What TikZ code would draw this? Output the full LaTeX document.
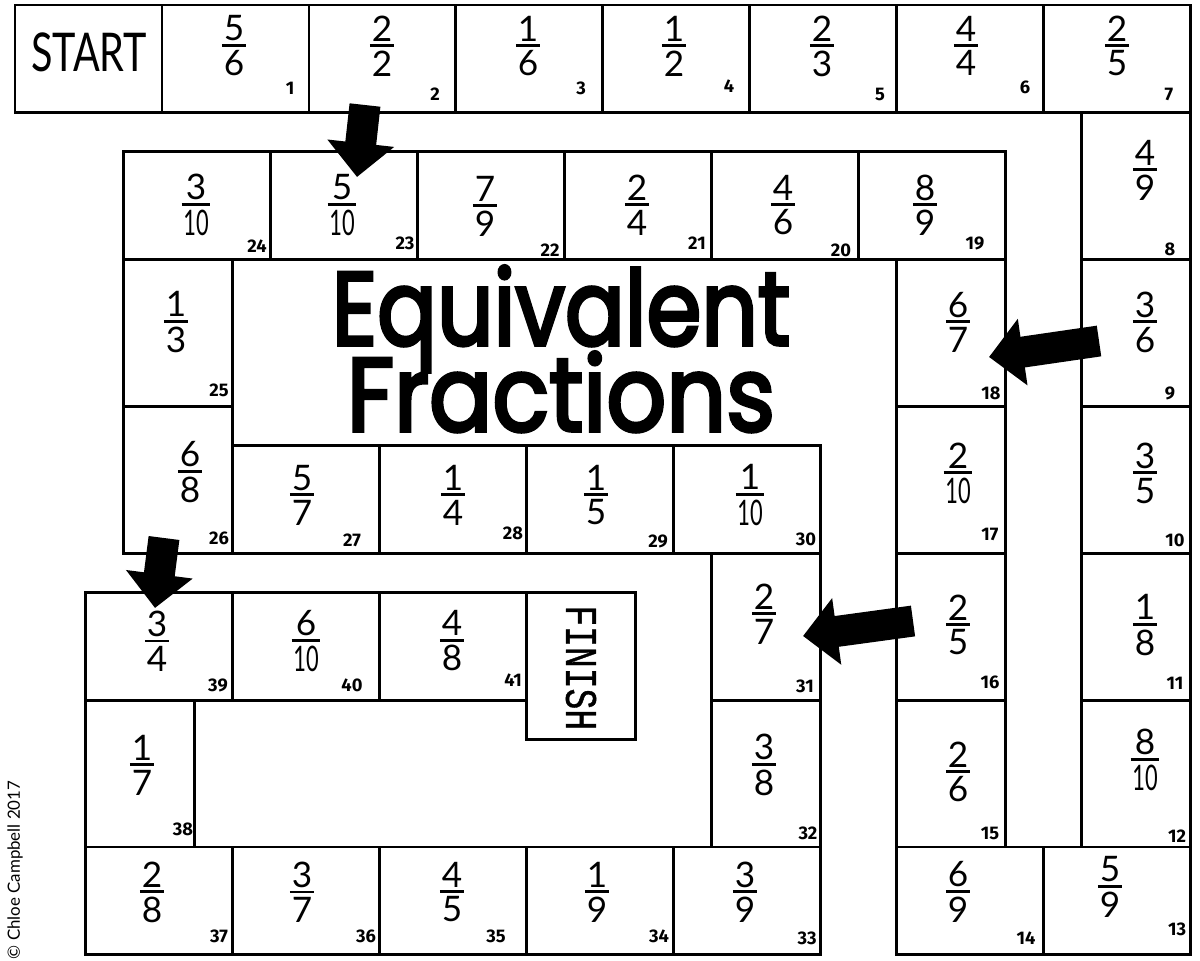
\documentclass[tikz,border=0pt]{standalone}
\usepackage{fontspec}
\usepackage{graphicx}
\usetikzlibrary{positioning,arrows.meta}
\setmainfont{Lato}
\newfontfamily\numfont{Fira Sans}
\newfontfamily\titlefont[FakeBold=3.5]{Poppins}
\newfontfamily\monofont[FakeBold=1]{Liberation Mono}
\newcommand\fr[2]{\vbox{\offinterlineskip\halign{\hfil\kern1.3pt##\kern1.3pt\hfil\cr #1\cr\noalign{\kern2.2pt\hrule height 1.8pt\kern2.8pt}#2\cr}}}
\newcommand\tn{\scalebox{.62}[1]{10}}
\tikzset{
  wide/.style={draw,line width=2pt,outer sep=0pt,inner sep=0pt,minimum width=3.673cm,minimum height=2.695cm},
  tall/.style={draw,line width=2pt,outer sep=0pt,inner sep=0pt,minimum width=2.72cm,minimum height=3.67cm},
  fraction/.style={inner sep=0pt,font=\fontsize{25}{28}\selectfont},
  cellnum/.style={inner sep=0pt,font=\numfont\bfseries\fontsize{13}{15}\selectfont},
  headline/.style={inner sep=0pt,anchor=base,font=\titlefont\fontsize{74}{76}\selectfont},
  blockarrow/.style={-{Triangle[length=.85cm,width=1.63cm]},line width=.775cm}
}
\begin{document}
\begin{tikzpicture}[x=.025cm,y=-.025cm]
  \useasboundingbox (0,0) rectangle (1200,960);

  % outer track
  \node[wide,anchor=north west] (start) at (15,5) {};
  \node[inner sep=0pt,font=\fontsize{38}{40}\selectfont] (starttext) at (89,52) {\scalebox{.74}[1]{START}};
  \node[wide,right=0pt of start] (c1) {};
  \node[wide,right=0pt of c1] (c2) {};
  \node[wide,right=0pt of c2] (c3) {};
  \node[wide,right=0pt of c3] (c4) {};
  \node[wide,right=0pt of c4] (c5) {};
  \node[wide,right=0pt of c5] (c6) {};
  \node[wide,right=0pt of c6] (c7) {};
  \node[tall,anchor=north east] (c8) at (c7.south east) {};
  \node[tall,below=0pt of c8] (c9) {};
  \node[tall,below=0pt of c9] (c10) {};
  \node[tall,below=0pt of c10] (c11) {};
  \node[tall,below=0pt of c11] (c12) {};
  \node[wide,anchor=north east] (c13) at (c12.south east) {};
  \node[wide,left=0pt of c13] (c14) {};
  \node[tall,anchor=south west] (c15) at (c14.north west) {};
  \node[tall,above=0pt of c15] (c16) {};
  \node[tall,above=0pt of c16] (c17) {};
  \node[tall,above=0pt of c17] (c18) {};
  % middle track
  \node[wide,anchor=south east] (c19) at (c18.north east) {};
  \node[wide,left=0pt of c19] (c20) {};
  \node[wide,left=0pt of c20] (c21) {};
  \node[wide,left=0pt of c21] (c22) {};
  \node[wide,left=0pt of c22] (c23) {};
  \node[wide,left=0pt of c23] (c24) {};
  \node[tall,anchor=north west] (c25) at (c24.south west) {};
  \node[tall,below=0pt of c25] (c26) {};
  \node[wide,anchor=south west] (c27) at (c26.south east) {};
  \node[wide,right=0pt of c27] (c28) {};
  \node[wide,right=0pt of c28] (c29) {};
  \node[wide,right=0pt of c29] (c30) {};
  \node[tall,anchor=north east] (c31) at (c30.south east) {};
  \node[tall,below=0pt of c31] (c32) {};
  % inner track
  \node[wide,anchor=north east] (c33) at (c32.south east) {};
  \node[wide,left=0pt of c33] (c34) {};
  \node[wide,left=0pt of c34] (c35) {};
  \node[wide,left=0pt of c35] (c36) {};
  \node[wide,left=0pt of c36] (c37) {};
  \node[tall,anchor=south west] (c38) at (c37.north west) {};
  \node[wide,anchor=south west] (c39) at (c38.north west) {};
  \node[wide,right=0pt of c39] (c40) {};
  \node[wide,right=0pt of c40] (c41) {};
  \node[tall,anchor=north west] (finish) at (c41.north east) {};
  \node[rotate=-90,inner sep=0pt,xshift=.05cm,font=\monofont\fontsize{32}{34}\selectfont] (finishtext) at (finish.center) {\scalebox{.77}[1]{FINISH}};

  % fractions and cell numbers
  \foreach \id/\tp/\bt/\fx/\fy/\nx/\ny in {
    1/5/6/234/46/290/88, 2/2/2/382/46/435/94, 3/1/6/528/46/581/88, 4/1/2/674/46/729/86,
    5/2/3/822/46/880/94, 6/4/4/966/46/1025/87, 7/2/5/1117/46/1169/94, 8/4/9/1145/170/1170/249,
    9/3/6/1145/322/1170/393, 10/3/5/1145/473/1175/540, 11/1/8/1145/625/1175/683, 12/8/\tn/1145/760/1177/836,
    13/5/9/1110/887/1177/929, 14/6/9/958/892/1026/938, 15/2/6/958/772/990/833, 16/2/5/958/625/990/682,
    17/2/\tn/958/473/990/534, 18/6/7/958/322/991/393, 19/8/9/925/205/975/243, 20/4/6/783/205/841/250,
    21/2/4/637/205/697/243, 22/7/9/485/206/550/250, 23/5/\tn/342/205/405/243, 24/3/\tn/196/205/257/246,
    25/1/3/176/322/219/390, 26/6/8/190/472/219/538, 27/5/7/302/495/352/540, 28/1/4/453/495/513/533,
    29/1/5/596/495/658/541, 30/1/\tn/750/495/806/539, 31/2/7/764/614/805/686, 32/3/8/764/765/808/833,
    33/3/9/745/892/807/938, 34/1/9/597/892/659/936, 35/4/5/452/892/496/936, 36/3/7/302/892/366/936,
    37/2/8/152/892/219/936, 38/1/7/142/765/183/829, 39/3/4/157/641/218/685, 40/6/\tn/306/641/352/685,
    41/4/8/452/641/513/680}{
    \node[fraction] (frac\id) at (\fx,\fy) {\fr{\tp}{\bt}};
    \node[cellnum] (num\id) at (\nx,\ny) {\id};
  }

  \node[headline] (title1) at (561,345) {\scalebox{.85}[1]{Equivalent}};
  \node[headline] (title2) at (561,431) {\scalebox{.9}[1]{Fractions}};
  \node[rotate=90,inner sep=0pt,font=\fontsize{12}{14}\selectfont] (credit) at (15,870) {© Chloe Campbell 2017};

  % arrows
  \coordinate (tail1) at (365,105);
  \coordinate (tip1) at (357,177);
  \coordinate (tail2) at (1099,341);
  \coordinate (tip2) at (989,357);
  \coordinate (tail3) at (913,621);
  \coordinate (tip3) at (803,636);
  \coordinate (tail4) at (164,538);
  \coordinate (tip4) at (155,608);
  \draw[blockarrow] (tail1) -- (tip1);
  \draw[blockarrow] (tail2) -- (tip2);
  \draw[blockarrow] (tail3) -- (tip3);
  \draw[blockarrow] (tail4) -- (tip4);
\end{tikzpicture}
\end{document}
